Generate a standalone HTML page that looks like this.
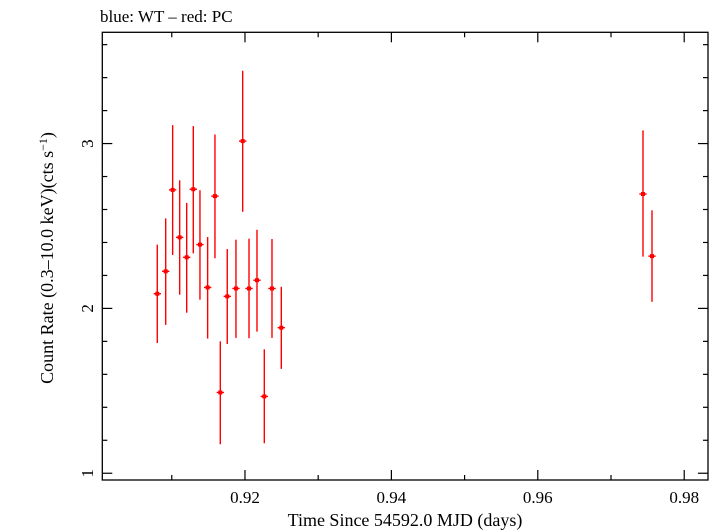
<!DOCTYPE html>
<html><head><meta charset="utf-8"><style>
body{margin:0;background:#fff}
svg{display:block;font-family:"Liberation Serif",serif}
</style></head><body>
<svg id="chart" width="715" height="532" viewBox="0 0 715 532">
<text x="100" y="22" font-size="17">blue: WT – red: PC</text>
<rect x="102.3" y="32.3" width="605.7" height="447.7" fill="none" stroke="#000" stroke-width="1.3"/>
<g id="ticks"></g>
<g id="marks"></g>
<text x="405" y="526" font-size="18" text-anchor="middle">Time Since 54592.0 MJD (days)</text>
<text transform="translate(53,258) rotate(-90)" font-size="18" text-anchor="middle">Count Rate (0.3–10.0 keV)(cts s<tspan dy="-6" font-size="12">−1</tspan><tspan dy="6">)</tspan></text>
</svg>
<script>
const times=[0.90802,0.90917,0.91012,0.91108,0.91204,0.91294,0.91385,0.9149,0.9159,0.91663,0.91758,0.91877,0.91969,0.92055,0.92164,0.92264,0.92369,0.92496,0.97437,0.9756];
const rates=[2.089,2.225,2.719,2.431,2.31,2.723,2.387,2.127,2.681,1.49,2.073,2.121,3.015,2.121,2.171,1.466,2.121,1.883,2.694,2.317];
const rateHi=[2.387,2.546,3.112,2.777,2.64,3.106,2.717,2.433,3.055,1.80,2.36,2.417,3.442,2.423,2.477,1.752,2.421,2.131,3.08,2.595];
const rateLo=[1.79,1.90,2.324,2.083,1.974,2.334,2.053,1.817,2.304,1.176,1.784,1.821,2.586,1.819,1.859,1.182,1.821,1.633,2.314,2.04];
const xTickLabels=["0.92","0.94","0.96","0.98"];
const yTickLabels=["1","2","3"];
const X0=0.90051,X1=0.98325,PL=102.3,PR=708;
const Y0=0.959,Y1=3.675,PB=480,PT=32.3;
const xs=v=>PL+(v-X0)/(X1-X0)*(PR-PL);
const ys=v=>PB-(v-Y0)/(Y1-Y0)*(PB-PT);
const NS="http://www.w3.org/2000/svg";
function mk(tag,attrs,parent){const e=document.createElementNS(NS,tag);for(const k in attrs)e.setAttribute(k,attrs[k]);parent.appendChild(e);return e;}
const tg=document.getElementById('ticks');
for(let i=0;i<=8;i++){const v=0.91+i*0.01;const x=xs(v);const major=(i%2===1);const L=major?10:5;
 const a=mk('line',{x1:x,x2:x,y1:PB,y2:PB-L,stroke:'#000','stroke-width':1.2},tg);
 
 const b=mk('line',{x1:x,x2:x,y1:PT,y2:PT+L,stroke:'#000','stroke-width':1.2},tg);
 }
xTickLabels.forEach(s=>{const t=mk('text',{x:xs(parseFloat(s)),y:503,'font-size':17,'text-anchor':'middle'},tg);t.textContent=s;
 });
for(let i=0;i<=13;i++){const v=1+i*0.2;const y=ys(v);const major=(i%5===0);const L=major?10:5;
 const a=mk('line',{x1:PL,x2:PL+L,y1:y,y2:y,stroke:'#000','stroke-width':1.2},tg);
 
 const b=mk('line',{x1:PR,x2:PR-L,y1:y,y2:y,stroke:'#000','stroke-width':1.2},tg);
 }
yTickLabels.forEach(s=>{const y=ys(parseFloat(s));const t=mk('text',{transform:`translate(93,${y}) rotate(-90)`,'font-size':17,'text-anchor':'middle'},tg);t.textContent=s;
 });
const mg=document.getElementById('marks');
times.forEach((t,i)=>{const g=mk('g',{},mg);
 
 const x=xs(t),y=ys(rates[i]);
 mk('line',{x1:x,x2:x,y1:ys(rateHi[i]),y2:ys(rateLo[i]),stroke:'#f00','stroke-width':1.4},g);
 mk('line',{x1:xs(t-0.0005),x2:xs(t+0.0005),y1:y,y2:y,stroke:'#f00','stroke-width':1.4},g);
 mk('rect',{x:x-2,y:y-2,width:4,height:4,fill:'#f00'},g);});
</script>
</body></html>
